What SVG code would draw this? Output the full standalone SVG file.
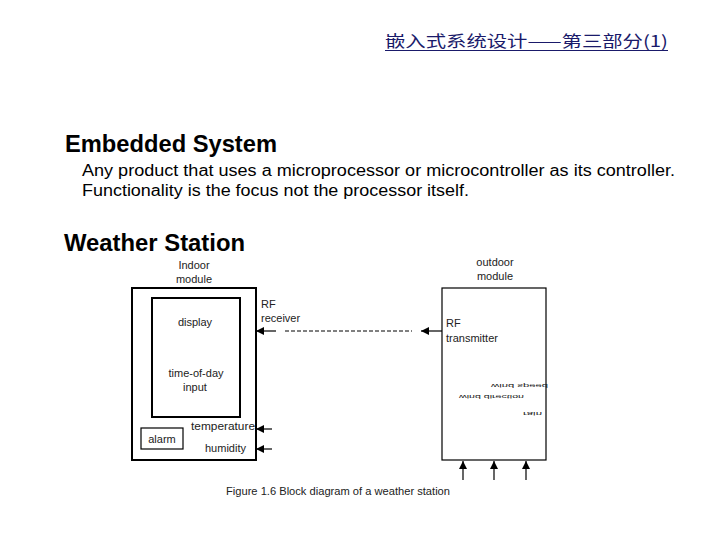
<svg xmlns="http://www.w3.org/2000/svg" width="720" height="540" viewBox="0 0 720 540">
<style>
.hdr{font-family:"Noto Sans CJK SC","Liberation Serif",serif;font-size:16px;fill:#1a1a6a}
.h{font-family:"Liberation Sans",Arial,sans-serif;font-weight:bold;font-size:23px;fill:#000}
.b{font-family:"Liberation Sans",Arial,sans-serif;font-size:16px;fill:#000}
.t{font-family:"Liberation Sans",Arial,sans-serif;font-size:11px;fill:#222}
.tc{font-family:"Liberation Sans",Arial,sans-serif;font-size:11px;fill:#222;text-anchor:middle}
.box{fill:none;stroke:#000;stroke-width:2}
.thin{fill:none;stroke:#000;stroke-width:1.2}
.ln{stroke:#000;stroke-width:1.2;fill:none}
.dash{stroke:#000;stroke-width:1;stroke-dasharray:4,2;fill:none}
</style>
<defs>
<marker id="ah" viewBox="0 0 10 10" refX="10" refY="5" markerWidth="8" markerHeight="8" markerUnits="userSpaceOnUse" orient="auto">
<path d="M0,0 L10,5 L0,10 z" fill="#000"/>
</marker>
</defs>
<rect width="720" height="540" fill="#fff"/>
<g id="header">
<text class="hdr" x="385" y="47" textLength="283" lengthAdjust="spacingAndGlyphs">嵌入式系统设计——第三部分(1)</text>
<line x1="385" y1="50.5" x2="668" y2="50.5" stroke="#1a1a6a" stroke-width="1.2"/>
</g>
<g id="intro">
<text class="h" x="65" y="152" textLength="212" lengthAdjust="spacingAndGlyphs">Embedded System</text>
<text class="b" x="82" y="176" textLength="593" lengthAdjust="spacingAndGlyphs">Any product that uses a microprocessor or microcontroller as its controller.</text>
<text class="b" x="82" y="196" textLength="387" lengthAdjust="spacingAndGlyphs">Functionality is the focus not the processor itself.</text>
<text class="h" x="64" y="251" textLength="181" lengthAdjust="spacingAndGlyphs">Weather Station</text>
</g>
<g id="indoor">
<text class="tc" x="194" y="269">Indoor</text>
<text class="tc" x="194" y="283">module</text>
<rect class="box" x="132" y="288" width="124" height="172"/>
</g>
<g id="display">
<rect class="box" x="152" y="298" width="88" height="119"/>
<text class="tc" x="195" y="326">display</text>
<text class="tc" x="196" y="377">time-of-day</text>
<text class="tc" x="195" y="391">input</text>
</g>
<g id="alarm">
<rect class="thin" x="141" y="428" width="42" height="21"/>
<text class="tc" x="162" y="443">alarm</text>
</g>
<g id="labels">
<text class="t" x="191" y="430" textLength="64" lengthAdjust="spacingAndGlyphs">temperature</text>
<text class="t" x="205" y="452">humidity</text>
<text class="t" x="261" y="308">RF</text>
<text class="t" x="261" y="322">receiver</text>
</g>
<g id="outdoor">
<text class="tc" x="495" y="266">outdoor</text>
<text class="tc" x="495" y="280">module</text>
<rect class="thin" x="442" y="288" width="104" height="172" stroke-width="1.5"/>
<text class="t" x="446" y="327">RF</text>
<text class="t" x="446" y="342">transmitter</text>
<g transform="translate(0,384) scale(1,-0.45)">
<text class="t" x="491" y="0" textLength="57" lengthAdjust="spacingAndGlyphs">wind speed</text>
</g>
<g transform="translate(0,395) scale(1,-0.45)">
<text class="t" x="459" y="0" textLength="65" lengthAdjust="spacingAndGlyphs">wind direction</text>
</g>
<g transform="translate(0,412) scale(1,-0.45)">
<text class="t" x="523" y="0" textLength="19" lengthAdjust="spacingAndGlyphs">rain</text>
</g>
</g>
<g id="connectors">
<line class="ln" x1="272" y1="429" x2="256" y2="429" marker-end="url(#ah)"/>
<line class="ln" x1="272" y1="449" x2="256" y2="449" marker-end="url(#ah)"/>
<line class="ln" x1="276" y1="331" x2="256" y2="331" marker-end="url(#ah)"/>
<line class="dash" x1="285" y1="331" x2="412" y2="331"/>
<line class="ln" x1="442" y1="331" x2="421" y2="331" marker-end="url(#ah)"/>
<line class="ln" x1="463" y1="480" x2="463" y2="461" marker-end="url(#ah)"/>
<line class="ln" x1="494" y1="480" x2="494" y2="461" marker-end="url(#ah)"/>
<line class="ln" x1="526" y1="480" x2="526" y2="461" marker-end="url(#ah)"/>
</g>
<g id="caption">
<text class="t" x="226" y="495" textLength="224" lengthAdjust="spacingAndGlyphs">Figure 1.6 Block diagram of a weather station</text>
</g>
</svg>
